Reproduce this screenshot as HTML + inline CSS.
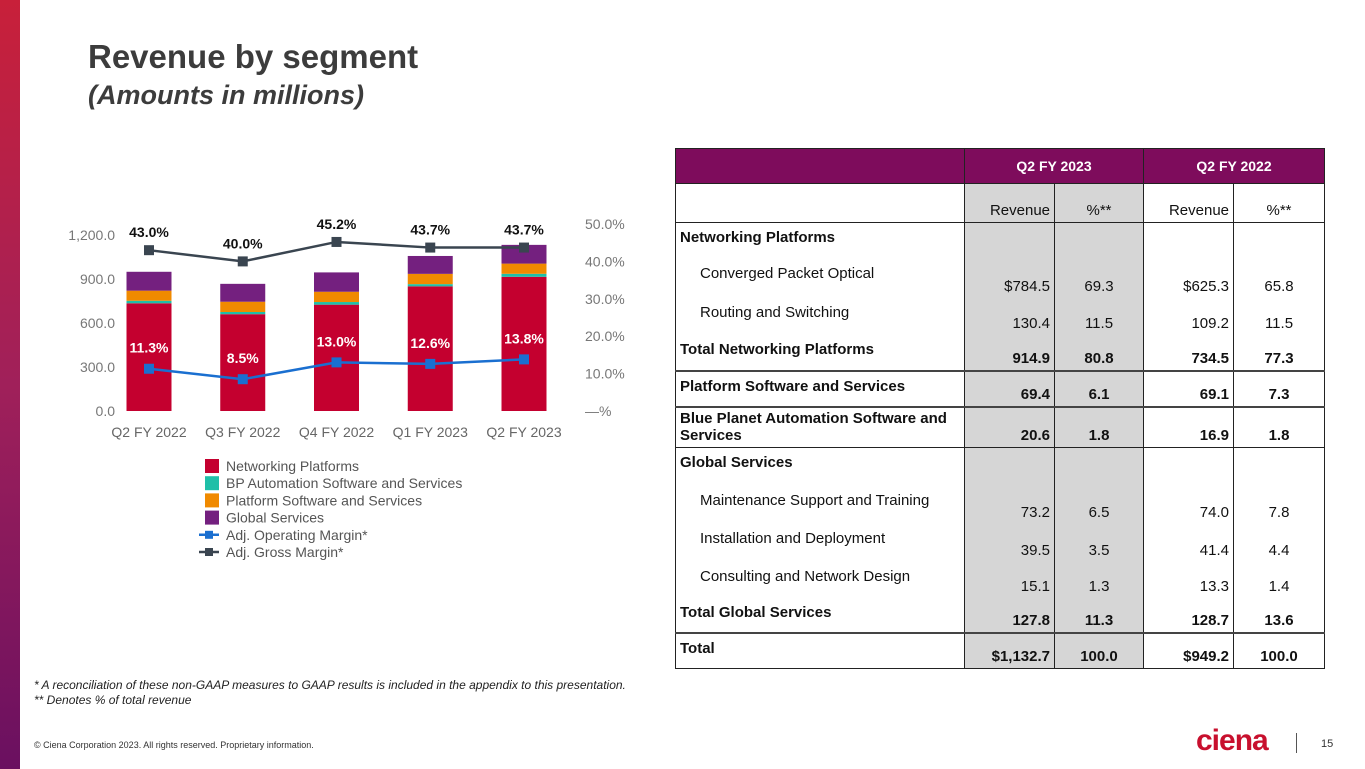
<!DOCTYPE html>
<html><head><meta charset="utf-8">
<style>
*{box-sizing:border-box;margin:0;padding:0}
body{width:1365px;height:769px;overflow:hidden;background:#fff;font-family:"Liberation Sans",Arial,sans-serif;position:relative;color:#333}
.stripe{position:absolute;left:0;top:0;width:20px;height:769px;background:linear-gradient(#c8203a,#a0205a 50%,#6a1060)}
h1{position:absolute;left:88px;top:38px;font-size:33px;font-weight:bold;color:#3c3c3c}
h2{position:absolute;left:88px;top:80px;font-size:27px;font-weight:bold;font-style:italic;color:#3c3c3c}
table{position:absolute;left:675px;top:148px;width:649px;table-layout:fixed;border-collapse:collapse;font-size:15px;color:#111}
td{border-left:1px solid #222;border-right:1px solid #222;padding:0 4px;white-space:nowrap;overflow:hidden}
td.n{text-align:right;vertical-align:bottom;padding-bottom:3px}
td.c{text-align:center}
td.l{vertical-align:top;padding-top:6px}
tr.hd td{background:#7e0c5c;color:#fff;font-weight:bold;text-align:center;font-size:14px}
.g{background:#d6d6d6}
tr.b td{font-weight:bold}
tr.lt td{border-top:1px solid #222}
tr.tk td{border-top:2px solid #444}
.ind{padding-left:24px!important}
.fn{position:absolute;left:34px;font-size:12px;font-style:italic;color:#222}
</style></head><body>
<div class="stripe"></div>
<h1>Revenue by segment</h1>
<h2>(Amounts in millions)</h2>

<svg id="chart" width="640" height="580" style="position:absolute;left:0;top:0"></svg>

<table style="border:1px solid #222">
<colgroup><col style="width:289px"><col style="width:90px"><col style="width:89px"><col style="width:90px"><col style="width:91px"></colgroup>
<tr class="hd" style="height:35px"><td></td><td colspan="2">Q2 FY 2023</td><td colspan="2">Q2 FY 2022</td></tr>
<tr style="height:39px" class="lt"><td></td><td class="n g">Revenue</td><td class="n c g">%**</td><td class="n">Revenue</td><td class="n c">%**</td></tr>
<tr style="height:36px" class="lt b"><td class="l">Networking Platforms</td><td class="g"></td><td class="g"></td><td></td><td></td></tr>
<tr style="height:39px"><td class="l ind">Converged Packet Optical</td><td class="n g">$784.5</td><td class="n c g">69.3</td><td class="n">$625.3</td><td class="n c">65.8</td></tr>
<tr style="height:37px"><td class="l ind">Routing and Switching</td><td class="n g">130.4</td><td class="n c g">11.5</td><td class="n">109.2</td><td class="n c">11.5</td></tr>
<tr style="height:36px" class="b"><td class="l">Total Networking Platforms</td><td class="n g">914.9</td><td class="n c g">80.8</td><td class="n">734.5</td><td class="n c">77.3</td></tr>
<tr style="height:36px" class="b tk"><td class="l">Platform Software and Services</td><td class="n g">69.4</td><td class="n c g">6.1</td><td class="n">69.1</td><td class="n c">7.3</td></tr>
<tr style="height:41px" class="b tk"><td style="line-height:17px;vertical-align:top;padding-top:2px;white-space:normal">Blue Planet Automation Software and<br>Services</td><td class="n g">20.6</td><td class="n c g">1.8</td><td class="n">16.9</td><td class="n c">1.8</td></tr>
<tr style="height:38px" class="b lt"><td class="l">Global Services</td><td class="g"></td><td class="g"></td><td></td><td></td></tr>
<tr style="height:38px"><td class="l ind">Maintenance Support and Training</td><td class="n g">73.2</td><td class="n c g">6.5</td><td class="n">74.0</td><td class="n c">7.8</td></tr>
<tr style="height:38px"><td class="l ind">Installation and Deployment</td><td class="n g">39.5</td><td class="n c g">3.5</td><td class="n">41.4</td><td class="n c">4.4</td></tr>
<tr style="height:36px"><td class="l ind">Consulting and Network Design</td><td class="n g">15.1</td><td class="n c g">1.3</td><td class="n">13.3</td><td class="n c">1.4</td></tr>
<tr style="height:35px" class="b"><td class="l">Total Global Services</td><td class="n g">127.8</td><td class="n c g">11.3</td><td class="n">128.7</td><td class="n c">13.6</td></tr>
<tr style="height:36px" class="b tk"><td class="l">Total</td><td class="n g">$1,132.7</td><td class="n c g">100.0</td><td class="n">$949.2</td><td class="n c">100.0</td></tr>
</table>

<div class="fn" style="top:678px">* A reconciliation of these non-GAAP measures to GAAP results is included in the appendix to this presentation.</div>
<div class="fn" style="top:693px">** Denotes % of total revenue</div>
<div style="position:absolute;left:34px;top:740px;font-size:9px;color:#333">© Ciena Corporation 2023. All rights reserved. Proprietary information.</div>
<div style="position:absolute;left:1196px;top:724px;font-size:30px;font-weight:bold;color:#c8102e;letter-spacing:-1px">ciena</div>
<div style="position:absolute;left:1296px;top:733px;width:1px;height:20px;background:#555"></div>
<div style="position:absolute;left:1321px;top:738px;font-size:11px;color:#333">15</div>

<script>
const categories=["Q2 FY 2022","Q3 FY 2022","Q4 FY 2022","Q1 FY 2023","Q2 FY 2023"];
const networking=[734.5,660,725,850,914.9];
const bpAutomation=[16.9,15,18,15,20.6];
const platformSoftware=[69.1,70,70,70,69.4];
const globalServices=[128.7,122,132,122,127.8];
const grossMargin=[43.0,40.0,45.2,43.7,43.7];
const opMargin=[11.3,8.5,13.0,12.6,13.8];
const leftTicks=[0,300,600,900,1200];
const leftTickLabels=["0.0","300.0","600.0","900.0","1,200.0"];
const rightTicks=[0,10,20,30,40,50];
const rightTickLabels=["—%","10.0%","20.0%","30.0%","40.0%","50.0%"];

const NS="http://www.w3.org/2000/svg";
const svg=document.getElementById('chart');
const y0=411;
const yL=v=>y0-v*176/1200;
const yR=v=>y0-v*187/50;
const xC=i=>149+i*93.75;
const BW=45;
function mk(t,a,txt){const e=document.createElementNS(NS,t);for(const k in a)e.setAttribute(k,a[k]);if(txt!==undefined)e.textContent=txt;svg.appendChild(e);return e;}

leftTicks.forEach((v,i)=>{
  const e=mk('text',{x:115,y:yL(v)+5,'text-anchor':'end','font-size':14,fill:'#777','font-family':'Liberation Sans'},leftTickLabels[i]);
  
  
});
rightTicks.forEach((v,i)=>{
  const e=mk('text',{x:585,y:yR(v)+5,'font-size':14,fill:'#777','font-family':'Liberation Sans'},rightTickLabels[i]);
  
  
});
const series=[[networking,'#c4002f','networking-bar'],[bpAutomation,'#1fbfa8','bp-automation-bar'],[platformSoftware,'#f08a00','platform-software-bar'],[globalServices,'#74207f','global-services-bar']];
categories.forEach((c,i)=>{
  let base=0;
  series.forEach(([arr,col,nm])=>{
    const r=mk('rect',{x:xC(i)-BW/2,y:yL(base+arr[i]),width:BW,height:yL(base)-yL(base+arr[i]),fill:col});
    
    
    base+=arr[i];
  });
  const t=mk('text',{x:xC(i),y:437,'text-anchor':'middle','font-size':14,fill:'#666','font-family':'Liberation Sans'},c);
  
  
});
function line(arr,col,nm,lblCol,dy){
  const pts=arr.map((v,i)=>xC(i)+','+yR(v)).join(' ');
  const p=mk('polyline',{points:pts,fill:'none',stroke:col,'stroke-width':2.5});
  
  
  arr.forEach((v,i)=>{
    const m=mk('rect',{x:xC(i)-5,y:yR(v)-5,width:10,height:10,fill:col});
    
    
    const t=mk('text',{x:xC(i),y:yR(v)+dy,'text-anchor':'middle','font-size':14,'font-weight':'bold',fill:lblCol,'font-family':'Liberation Sans'},v.toFixed(1)+'%');
    
    
  });
}
line(grossMargin,'#3a4550','gross-margin','#111',-13);
line(opMargin,'#1a6fd0','operating-margin','#fff',-16);

const leg=[['rect','#c4002f','Networking Platforms'],['rect','#1fbfa8','BP Automation Software and Services'],['rect','#f08a00','Platform Software and Services'],['rect','#74207f','Global Services'],['line','#1a6fd0','Adj. Operating Margin*'],['line','#3a4550','Adj. Gross Margin*']];
leg.forEach((l,i)=>{
  const y=466+i*17.2;
  if(l[0]==='rect'){const r=mk('rect',{x:205,y:y-7,width:14,height:14,fill:l[1]});}
  else{const a=mk('line',{x1:199,y1:y,x2:219,y2:y,stroke:l[1],'stroke-width':2.5});
    const b=mk('rect',{x:205,y:y-4,width:8,height:8,fill:l[1]});}
  const t=mk('text',{x:226,y:y+5,'font-size':14,fill:'#555','font-family':'Liberation Sans'},l[2]);
  
  
});
</script>
</body></html>
